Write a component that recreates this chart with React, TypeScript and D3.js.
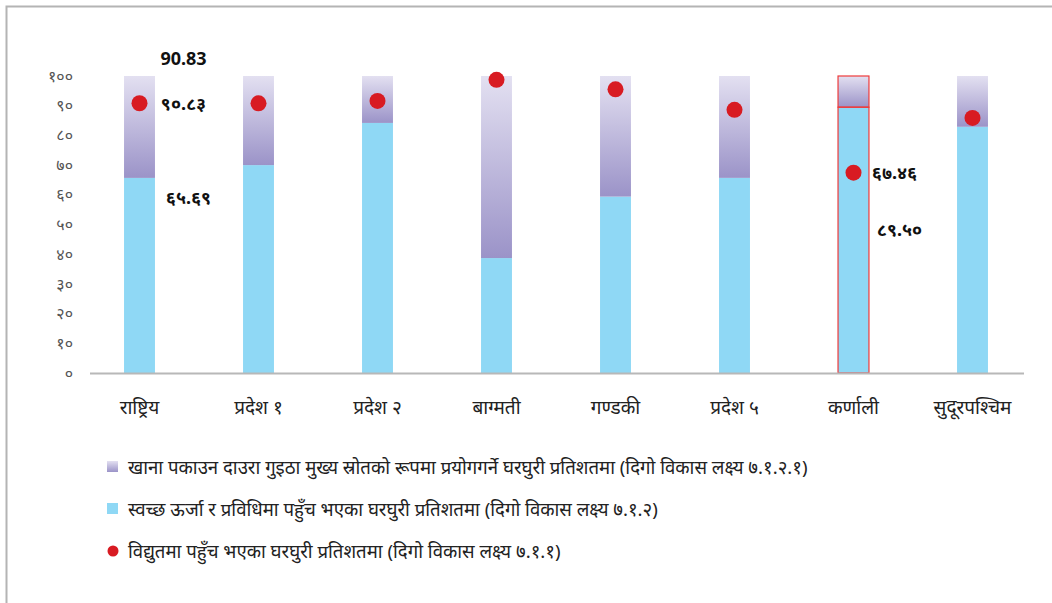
import * as d3 from 'd3';
import { useRef, useEffect } from "react"

// categories and values
const provinces = ["राष्ट्रिय", "प्रदेश १", "प्रदेश २", "बाग्मती", "गण्डकी", "प्रदेश ५", "कर्णाली", "सुदूरपश्चिम"]
const cleanEnergy = [65.69, 70.0, 84.2, 38.7, 59.4, 65.7, 89.5, 82.9]
const firewood = [34.31, 30.0, 15.8, 61.3, 40.6, 34.3, 10.5, 17.1]
const electricity = [90.83, 90.8, 91.6, 98.7, 95.5, 88.6, 67.46, 85.9]
const yTicks = [0, 10, 20, 30, 40, 50, 60, 70, 80, 90, 100]
const legendLabels = [
    "खाना पकाउन दाउरा गुइठा मुख्य स्रोतको रूपमा प्रयोगगर्ने घरघुरी प्रतिशतमा (दिगो विकास लक्ष्य ७.१.२.१)",
    "स्वच्छ ऊर्जा र प्रविधिमा पहुँच भएका घरघुरी प्रतिशतमा (दिगो विकास लक्ष्य ७.१.२)",
    "विद्युतमा पहुँच भएका घरघुरी प्रतिशतमा (दिगो विकास लक्ष्य ७.१.१)",
]
const annotations = [
    { text: "90.83", cat: 0, value: 90.83, dx: 44, dy: -45 },
    { text: "९०.८३", cat: 0, value: 90.83, dx: 44, dy: 0 },
    { text: "६५.६९", cat: 0, value: 65.69, dx: 49, dy: 20 },
    { text: "६७.४६", cat: 6, value: 67.46, dx: 41, dy: 0 },
    { text: "८९.५०", cat: 6, value: 89.5, dx: 46, dy: 123 },
]

const toDev = (s: string) => s.replace(/[0-9]/g, c => "०१२३४५६७८९"[+c])

function App() {
    const ref = useRef<SVGSVGElement | null>(null)

    useEffect(() => {
        renderChart();
    }, [])

    function renderChart() {
        const svg = d3.select(ref.current!)
        svg.selectAll("*").remove()
        const font = "'Noto Sans', 'Noto Sans Devanagari', sans-serif"

        // outer frame (only top/left visible)
        svg.append("rect")
            .attr("x", 6.5).attr("y", 6.5)
            .attr("width", 1200).attr("height", 800)
            .attr("fill", "none")
            .attr("stroke", "#b4b4b4")
            .attr("stroke-width", 2)

        const x = d3.scaleBand()
            .domain(provinces)
            .range([80, 1032])
            .paddingInner(0.74)
            .paddingOuter(0.37)

        const y = d3.scaleLinear()
            .domain([0, 100])
            .range([373, 76])

        const defs = svg.append("defs")
        const grad = defs.append("linearGradient")
            .attr("id", "fw").attr("x1", 0).attr("y1", 0).attr("x2", 0).attr("y2", 1)
        grad.append("stop").attr("offset", "0%").attr("stop-color", "#e3e0f1")
        grad.append("stop").attr("offset", "100%").attr("stop-color", "#9b93c8")

        // y tick labels
        svg.append("g")
            .selectAll("text")
            .data(yTicks)
            .enter()
            .append("text")
            .attr("x", 73)
            .attr("y", d => y(d))
            .attr("dy", "0.35em")
            .attr("text-anchor", "end")
            .attr("font-family", font)
            .attr("font-size", 16)
            .attr("fill", "#555")
            .text(d => toDev(String(d)))

        const bw = x.bandwidth()

        // blue bars
        svg.append("g")
            .selectAll("rect")
            .data(provinces)
            .enter()
            .append("rect")
            .attr("x", d => x(d)!)
            .attr("y", (_, i) => y(cleanEnergy[i]))
            .attr("width", bw)
            .attr("height", (_, i) => y(0) - y(cleanEnergy[i]))
            .attr("fill", "#8fd8f5")

        // stacked firewood bars
        svg.append("g")
            .selectAll("rect")
            .data(provinces)
            .enter()
            .append("rect")
            .attr("x", d => x(d)!)
            .attr("y", (_, i) => y(cleanEnergy[i] + firewood[i]))
            .attr("width", bw)
            .attr("height", (_, i) => y(cleanEnergy[i]) - y(cleanEnergy[i] + firewood[i]))
            .attr("fill", "url(#fw)")

        // highlight Karnali
        const k = 6
        svg.append("rect")
            .attr("x", x(provinces[k])!)
            .attr("y", y(cleanEnergy[k]))
            .attr("width", bw)
            .attr("height", y(0) - y(cleanEnergy[k]))
            .attr("fill", "none").attr("stroke", "#ee3b3b").attr("stroke-width", 1.2)
        svg.append("rect")
            .attr("x", x(provinces[k])!)
            .attr("y", y(cleanEnergy[k] + firewood[k]))
            .attr("width", bw)
            .attr("height", y(cleanEnergy[k]) - y(cleanEnergy[k] + firewood[k]))
            .attr("fill", "none").attr("stroke", "#ee3b3b").attr("stroke-width", 1.2)

        // axis line
        svg.append("line")
            .attr("x1", 90).attr("x2", 1024)
            .attr("y1", y(0) + 0.5).attr("y2", y(0) + 0.5)
            .attr("stroke", "#b8b8b8").attr("stroke-width", 2)

        // electricity dots
        svg.append("g")
            .selectAll("circle")
            .data(provinces)
            .enter()
            .append("circle")
            .attr("cx", d => x(d)! + bw / 2)
            .attr("cy", (_, i) => y(electricity[i]))
            .attr("r", 8)
            .attr("fill", "#d81b22")

        // x labels
        svg.append("g")
            .selectAll("text")
            .data(provinces)
            .enter()
            .append("text")
            .attr("x", d => x(d)! + bw / 2)
            .attr("y", 414)
            .attr("text-anchor", "middle")
            .attr("font-family", font)
            .attr("font-size", 19)
            .attr("fill", "#222")
            .text(d => d)

        // value annotations
        svg.append("g")
            .selectAll("text")
            .data(annotations)
            .enter()
            .append("text")
            .attr("x", d => x(provinces[d.cat])! + bw / 2 + d.dx)
            .attr("y", d => y(d.value) + d.dy)
            .attr("dy", "0.35em")
            .attr("text-anchor", "middle")
            .attr("font-family", font)
            .attr("font-size", 18)
            .attr("font-weight", "bold")
            .attr("fill", "#111")
            .text(d => d.text)

        // legend
        const lg = svg.append("g")
        const rowY = [467, 509, 551]
        lg.append("rect").attr("x", 107).attr("y", rowY[0] - 6).attr("width", 11).attr("height", 11).attr("fill", "url(#fw)")
        lg.append("rect").attr("x", 107).attr("y", rowY[1] - 6).attr("width", 11).attr("height", 11).attr("fill", "#8fd8f5")
        lg.append("circle").attr("cx", 113).attr("cy", rowY[2]).attr("r", 5.5).attr("fill", "#d81b22")
        lg.selectAll("text")
            .data(legendLabels)
            .enter()
            .append("text")
            .attr("x", 128)
            .attr("y", (_, i) => rowY[i])
            .attr("dy", "0.35em")
            .attr("font-family", font)
            .attr("font-size", 18.6)
            .attr("fill", "#222")
            .text(d => d)
    }

    return (
        <svg
            width={1052}
            height={603}
            ref={ref}
            style={{ position: 'absolute', left: 0, top: 0, background: '#fff' }}
        />
    )
}

export default App;
